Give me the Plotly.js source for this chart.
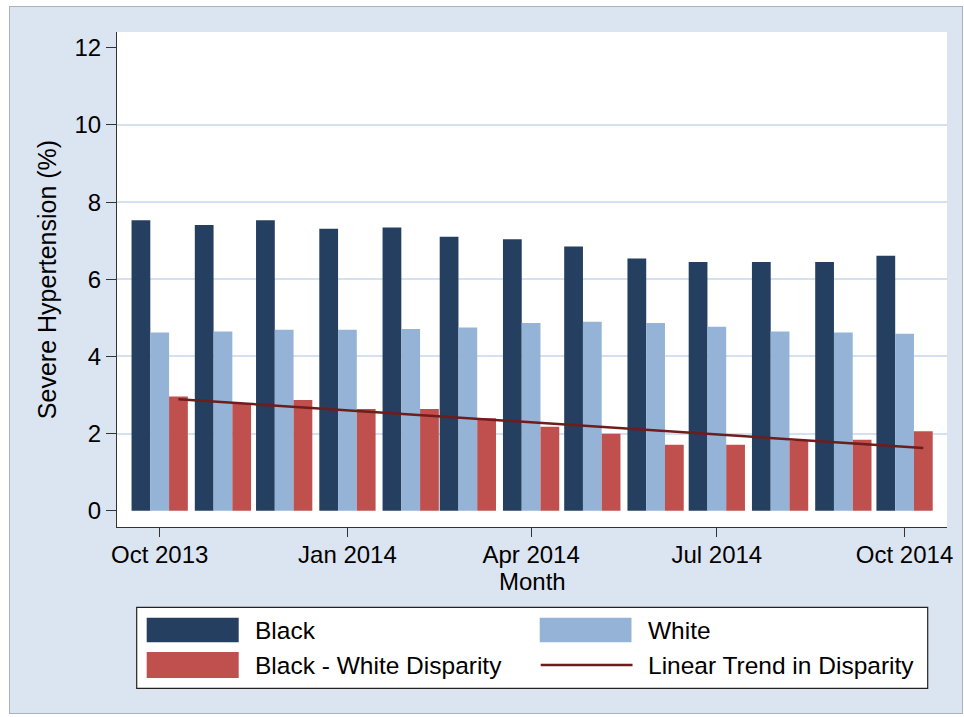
<!DOCTYPE html>
<html>
<head>
<meta charset="utf-8">
<script src="https://cdn.plot.ly/plotly-3.0.1.min.js"></script>
<style>
  html, body { margin: 0; padding: 0; background: #ffffff; }
  #frame { position: absolute; left: 9px; top: 6px; width: 952px; height: 706px; border: 1px solid #a9b3bd; }
  #chart { width: 952px; height: 706px; }
</style>
</head>
<body>
<div id="frame"><div id="chart"></div></div>
<script>
// ---- data ----
const months = ['2013-10-01','2013-11-01','2013-12-01','2014-01-01','2014-02-01','2014-03-01','2014-04-01',
                '2014-05-01','2014-06-01','2014-07-01','2014-08-01','2014-09-01','2014-10-01'];
const blackRate = [7.53, 7.41, 7.53, 7.31, 7.34, 7.10, 7.04, 6.85, 6.54, 6.45, 6.45, 6.45, 6.61];
const whiteRate = [4.62, 4.65, 4.69, 4.69, 4.71, 4.75, 4.87, 4.90, 4.87, 4.77, 4.65, 4.62, 4.59];
const disparity = [2.96, 2.78, 2.87, 2.64, 2.64, 2.40, 2.18, 2.00, 1.71, 1.71, 1.82, 1.84, 2.06];
const trendX = ['2013-10-10 04:00', '2014-10-10 04:00'];
const trendY = [2.89, 1.63];
const tickDates = ['2013-10-01','2014-01-01','2014-04-01','2014-07-01','2014-10-01'];
const tickLabels = ['Oct 2013','Jan 2014','Apr 2014','Jul 2014','Oct 2014'];
const yTicks = [0, 2, 4, 6, 8, 10, 12];
const gridTicks = [2, 4, 6, 8, 10];
const seriesNames = ['Black', 'White', 'Black - White Disparity', 'Linear Trend in Disparity'];
const xTitle = 'Month';
const yTitle = 'Severe Hypertension (%)';

// ---- style ----
const C_BLACK = '#243f60', C_WHITE = '#95b3d7', C_DISP = '#c0504d', C_TREND = '#6e1c1c';
const BG = '#dbe5f1', GRID = '#d6e1ef', AX = '#333333';
const FONT = 'Liberation Sans, Arial, sans-serif';
const YR = [-0.42, 12.41];

// layout geometry in div pixels
const W = 952, H = 706;
const M = {l: 107, r: 15, t: 25, b: 186};
const PW = W - M.l - M.r, PH = H - M.t - M.b;
const px = v => (v - M.l) / PW;
const py = v => (H - M.b - v) / PH;

const traces = [
  {type: 'bar', name: seriesNames[0], x: months, y: blackRate, marker: {color: C_BLACK}, showlegend: false},
  {type: 'bar', name: seriesNames[1], x: months, y: whiteRate, marker: {color: C_WHITE}, showlegend: false},
  {type: 'bar', name: seriesNames[2], x: months, y: disparity, marker: {color: C_DISP}, showlegend: false},
  {type: 'scatter', mode: 'lines', name: seriesNames[3], x: trendX, y: trendY, yaxis: 'y2',
   line: {color: C_TREND, width: 2.5}, showlegend: false}
];

// custom legend (large swatches like the original)
const shapes = [
  {type: 'rect', xref: 'paper', yref: 'paper', x0: px(126.7), x1: px(917.7), y0: py(681.3), y1: py(600.3),
   fillcolor: '#ffffff', line: {color: '#222222', width: 1.2}},
  {type: 'rect', xref: 'paper', yref: 'paper', x0: px(136.7), x1: px(228.7), y0: py(635.3), y1: py(610.7),
   fillcolor: C_BLACK, line: {width: 0}},
  {type: 'rect', xref: 'paper', yref: 'paper', x0: px(529.7), x1: px(621.5), y0: py(635.3), y1: py(610.7),
   fillcolor: C_WHITE, line: {width: 0}},
  {type: 'rect', xref: 'paper', yref: 'paper', x0: px(136.7), x1: px(228.7), y0: py(671), y1: py(645),
   fillcolor: C_DISP, line: {width: 0}},
  {type: 'line', xref: 'paper', yref: 'paper', x0: px(530.7), x1: px(622.5), y0: py(658), y1: py(658),
   line: {color: C_TREND, width: 2.5}}
];
const legFont = {family: FONT, size: 24.5, color: '#000000'};
const annotations = [
  {xref: 'paper', yref: 'paper', x: px(243), y: py(623), text: seriesNames[0], showarrow: false, xanchor: 'left', yanchor: 'middle', font: legFont},
  {xref: 'paper', yref: 'paper', x: px(636), y: py(623), text: seriesNames[1], showarrow: false, xanchor: 'left', yanchor: 'middle', font: legFont},
  {xref: 'paper', yref: 'paper', x: px(243), y: py(658), text: seriesNames[2], showarrow: false, xanchor: 'left', yanchor: 'middle', font: legFont},
  {xref: 'paper', yref: 'paper', x: px(636), y: py(658), text: seriesNames[3], showarrow: false, xanchor: 'left', yanchor: 'middle', font: legFont},
  {xref: 'paper', yref: 'paper', x: 0.5, y: py(574), text: xTitle, showarrow: false, xanchor: 'center', yanchor: 'middle',
   font: {family: FONT, size: 24, color: '#000'}}
];

const layout = {
  width: W, height: H,
  margin: M,
  paper_bgcolor: BG,
  plot_bgcolor: '#ffffff',
  barmode: 'group',
  bargap: 0.015,
  bargroupgap: 0,
  showlegend: false,
  font: {family: FONT, size: 24, color: '#000000'},
  xaxis: {
    type: 'date',
    range: ['2013-09-10 02:00', '2014-10-21 19:00'],
    tickmode: 'array', tickvals: tickDates, ticktext: tickLabels,
    ticks: 'outside', ticklen: 9, tickwidth: 1, tickcolor: AX,
    ticklabelstandoff: -3,
    showline: true, linecolor: AX, linewidth: 1,
    showgrid: false, zeroline: false,
    tickfont: {family: FONT, size: 24, color: '#000'},
    fixedrange: true
  },
  yaxis: {
    range: YR,
    tickmode: 'array', tickvals: yTicks,
    ticks: 'outside', ticklen: 10, tickwidth: 1, tickcolor: AX,
    showline: true, linecolor: AX, linewidth: 1,
    showgrid: false, zeroline: false,
    tickfont: {family: FONT, size: 24, color: '#000'},
    title: {text: yTitle, font: {family: FONT, size: 25, color: '#000'}, standoff: 10},
    fixedrange: true
  },
  yaxis2: {
    overlaying: 'y', anchor: 'x', side: 'left',
    range: YR,
    tickmode: 'array', tickvals: gridTicks,
    showticklabels: false, ticks: '', showline: false, zeroline: false,
    showgrid: true, gridcolor: GRID, gridwidth: 2,
    fixedrange: true
  },
  shapes: shapes,
  annotations: annotations
};

Plotly.newPlot('chart', traces, layout, {displayModeBar: false, staticPlot: true});
</script>
</body>
</html>
